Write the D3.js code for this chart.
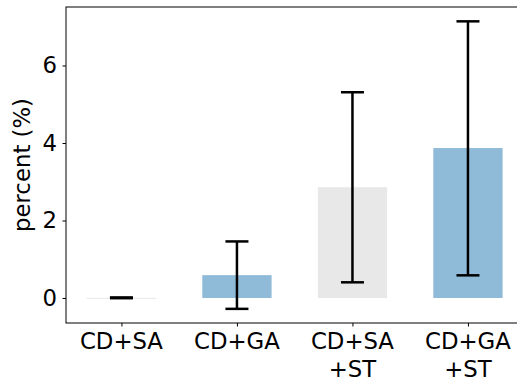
<!DOCTYPE html>
<html lang="en">
<head>
<meta charset="utf-8">
<title>percent bars</title>
<script src="https://cdn.jsdelivr.net/npm/d3@7"></script>
<style>
  body { margin: 0; background: #fff; }
  svg text { font-family: "DejaVu Sans", sans-serif; fill: #000; }
</style>
</head>
<body>
<script>
// data
var categories = ["CD+SA", "CD+GA", "CD+SA\n+ST", "CD+GA\n+ST"];
var values = [0.005, 0.59, 2.86, 3.87];
var errLow = [-0.005, -0.28, 0.405, 0.585];
var errHigh = [0.015, 1.46, 5.31, 7.14];
var barColors = ["#e8e8e8", "#8fbbd9", "#e8e8e8", "#8fbbd9"];
var yTicks = [0, 2, 4, 6];

var w = 517, h = 382;
var plotLeft = 66, plotTop = 7, plotBottom = 323;
var fontSize = "22.8px";

var svg = d3.select("body").append("svg")
  .attr("width", w)
  .attr("height", h);

// x in "bar index" units like matplotlib
var xScale = d3.scaleLinear().domain([-0.48, 3.48]).range([plotLeft, 523.4]);
var yScale = d3.scaleLinear().domain([-0.645, 7.51]).range([plotBottom, plotTop]);
var barW = 0.6;

// bars
svg.selectAll("rect.bar")
  .data(values)
  .enter()
  .append("rect")
  .attr("class", "bar")
  .attr("x", function(d, i) { return xScale(i - barW / 2); })
  .attr("width", xScale(barW) - xScale(0))
  .attr("y", function(d) { return yScale(d); })
  .attr("height", function(d) { return Math.max(1, yScale(0) - yScale(d)); })
  .attr("fill", function(d, i) { return barColors[i]; });

// error bars
var capHalf = 11.5;
var eb = svg.selectAll("g.err")
  .data(values)
  .enter()
  .append("g")
  .attr("class", "err")
  .attr("stroke", "#000")
  .attr("stroke-width", 2.5);

eb.append("line")
  .attr("x1", function(d, i) { return xScale(i); })
  .attr("x2", function(d, i) { return xScale(i); })
  .attr("y1", function(d, i) { return yScale(errLow[i]); })
  .attr("y2", function(d, i) { return yScale(errHigh[i]); });
eb.append("line")
  .attr("x1", function(d, i) { return xScale(i) - capHalf; })
  .attr("x2", function(d, i) { return xScale(i) + capHalf; })
  .attr("y1", function(d, i) { return yScale(errLow[i]); })
  .attr("y2", function(d, i) { return yScale(errLow[i]); });
eb.append("line")
  .attr("x1", function(d, i) { return xScale(i) - capHalf; })
  .attr("x2", function(d, i) { return xScale(i) + capHalf; })
  .attr("y1", function(d, i) { return yScale(errHigh[i]); })
  .attr("y2", function(d, i) { return yScale(errHigh[i]); });

// axes
var yAxis = d3.axisLeft(yScale).tickValues(yTicks).tickSize(3.5).tickPadding(5.5);
var gy = svg.append("g")
  .attr("transform", "translate(" + plotLeft + ",0)")
  .call(yAxis);
gy.select(".domain").remove();
gy.attr("font-family", null);
gy.selectAll(".tick text").style("font-size", fontSize);

var xAxis = d3.axisBottom(xScale).tickValues([0, 1, 2, 3]).tickSize(3.5).tickFormat("");
var gx = svg.append("g")
  .attr("transform", "translate(0," + plotBottom + ")")
  .call(xAxis);
gx.select(".domain").remove();

// x tick labels, two lines where needed
categories.forEach(function(c, i) {
  var t = svg.append("text")
    .attr("text-anchor", "middle")
    .style("font-size", fontSize)
    .attr("x", xScale(i))
    .attr("y", 349);
  c.split("\n").forEach(function(line, k) {
    t.append("tspan")
      .attr("x", xScale(i))
      .attr("dy", k === 0 ? 0 : 27.5)
      .text(line);
  });
});

// frame
svg.append("rect")
  .attr("x", plotLeft)
  .attr("y", plotTop)
  .attr("width", xScale(3.48) - plotLeft)
  .attr("height", plotBottom - plotTop)
  .attr("fill", "none")
  .attr("stroke", "#000")
  .attr("stroke-width", 1);

// y label
svg.append("text")
  .attr("transform", "translate(30," + ((plotTop + plotBottom) / 2) + ") rotate(-90)")
  .attr("text-anchor", "middle")
  .style("font-size", fontSize)
  .text("percent (%)");
</script>
</body>
</html>
